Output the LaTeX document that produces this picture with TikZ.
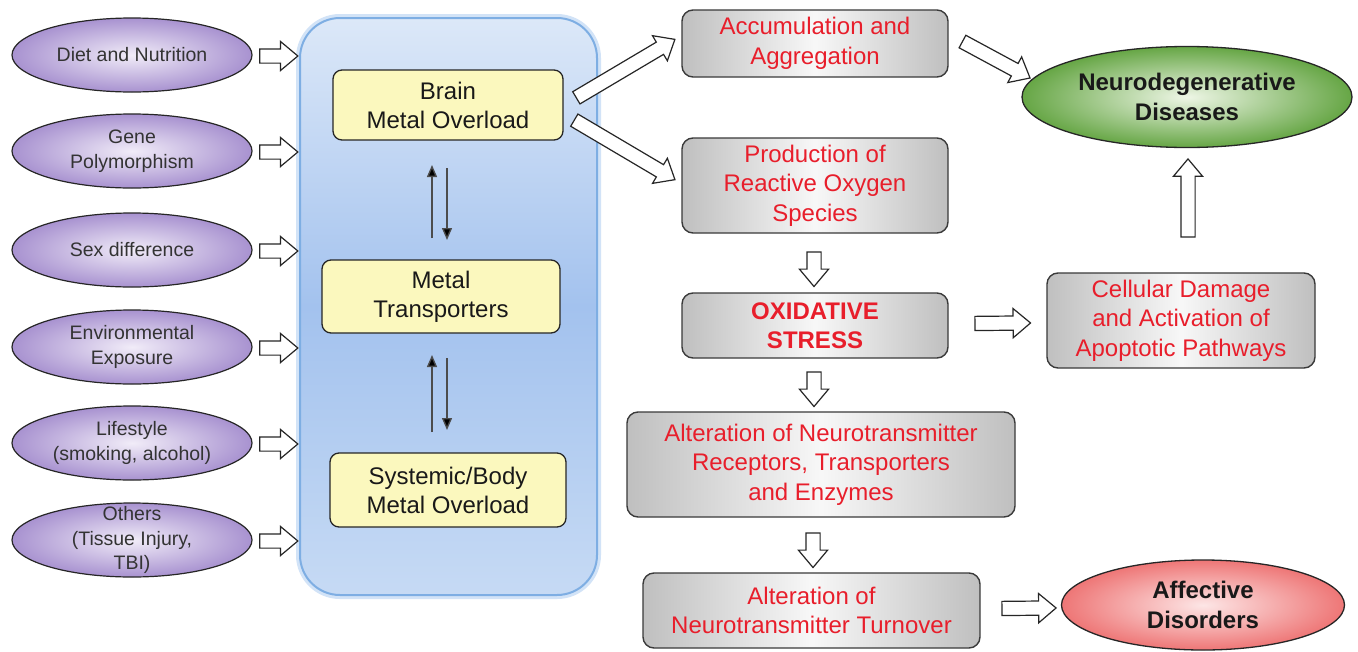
\documentclass[tikz,border=0pt]{standalone}
\usepackage{fontspec}
\setmainfont{Liberation Sans}
\usetikzlibrary{shapes.geometric,shapes.arrows,calc,arrows.meta}
\definecolor{purpin}{HTML}{F1ECF8}
\definecolor{purpout}{HTML}{A892D0}
\definecolor{bluetop}{HTML}{DCE8F8}
\definecolor{bluemid}{HTML}{A3C2EE}
\definecolor{bluebot}{HTML}{C6DAF4}
\definecolor{blueedge}{HTML}{7EAEE3}
\definecolor{blueglow}{HTML}{D2E3F7}
\definecolor{yellowfill}{HTML}{FBF8BE}
\definecolor{redtext}{HTML}{E81E2B}
\definecolor{greenin}{HTML}{EEF6E6}
\definecolor{greenout}{HTML}{66A645}
\definecolor{pinkin}{HTML}{FDE6E6}
\definecolor{pinkout}{HTML}{EE7676}
\definecolor{edgegray}{HTML}{3A3A3A}
\tikzset{
  factor/.style={ellipse, draw=black!85, line width=1.2pt, inner color=purpin, outer color=purpout,
    minimum width=240, minimum height=74, inner sep=0pt, align=center,
    font=\fontsize{19.5}{24.5}\selectfont, text=black!80},
  container/.style={rectangle, rounded corners=40, minimum width=297, minimum height=577,
    draw=blueedge, line width=2pt, top color=bluetop, bottom color=bluebot, middle color=bluemid},
  metalbox/.style={rectangle, rounded corners=9, draw=black!85, line width=1.3pt, fill=yellowfill,
    align=center, font=\fontsize{24}{29}\selectfont, text=black!90, inner sep=0pt},
  effectbox/.style={rectangle, rounded corners=11, draw=edgegray, line width=1.4pt,
    left color=black!25, right color=black!25, middle color=black!3,
    align=center, font=\fontsize{24}{29.5}\selectfont, text=redtext, inner sep=0pt},
  outcome/.style={ellipse, draw=black!85, line width=1.3pt, align=center, inner sep=0pt,
    font=\fontsize{24}{29.5}\selectfont\bfseries, text=black!90},
  fatarr/.style={single arrow, draw=black!85, line width=1.2pt, fill=white,
    inner xsep=0pt, inner ysep=6.5pt,
    single arrow head extend=7.5pt, single arrow tip angle=80, anchor=center},
  thinarr/.style={line width=1.4pt, draw=black!70, -{Triangle[length=12pt,width=10pt,fill=black]}}
}
\newcommand{\blockarrow}[2]{\path let \p1=(#1), \p2=(#2), \n1={veclen(\x2-\x1,\y2-\y1)} in
  (\p1) -- (\p2) node[fatarr, midway, sloped, allow upside down, minimum height=\n1]{};}
\begin{document}
\begin{tikzpicture}[x=1pt,y=-1pt]
\useasboundingbox (0,0) rectangle (1358,651);
\fill[white] (0,0) rectangle (1358,651);

% container
\draw[blueglow, line width=8pt, rounded corners=40] (300,18) rectangle (597,595);
\node[container] (cont) at (448.5,306.5) {};

% left factors
\node[factor] (diet) at (132,55) {Diet and Nutrition};
\node[factor] (gene) at (132,151) {Gene\\Polymorphism};
\node[factor] (sex) at (132,250) {Sex difference};
\node[factor] (env) at (132,347) {Environmental\\Exposure};
\node[factor] (life) at (132,443) {Lifestyle\\(smoking, alcohol)};
\node[factor, inner ysep=-13pt] (oth) at (132,540) {Others\\(Tissue Injury,\\TBI)};
\foreach \e in {diet,gene,sex,env,life,oth}{
  \coordinate (\e-s) at ($(\e.east)+(3,1)$);
  \coordinate (\e-t) at ($(\e.east)+(41,1)$);
  \blockarrow{\e-s}{\e-t}
}

% metal boxes
\node[metalbox, minimum width=230, minimum height=70] (brain) at (448,105) {Brain\\Metal Overload};
\node[metalbox, minimum width=238, minimum height=73] (trans) at (441,296.5) {Metal\\Transporters};
\node[metalbox, minimum width=236, minimum height=74] (sys) at (448,490) {Systemic/Body\\Metal Overload};

\coordinate (u1s) at (432,238); \coordinate (u1e) at (432,165);
\coordinate (d1s) at (447,168); \coordinate (d1e) at (447,240);
\coordinate (u2s) at (432,432); \coordinate (u2e) at (432,355);
\coordinate (d2s) at (447,358); \coordinate (d2e) at (447,430);
\draw[thinarr] (u1s) -- (u1e);
\draw[thinarr] (d1s) -- (d1e);
\draw[thinarr] (u2s) -- (u2e);
\draw[thinarr] (d2s) -- (d2e);

% effect boxes
\node[effectbox, minimum width=266, minimum height=67] (acc) at (815,43.5) {Accumulation and\\Aggregation};
\node[effectbox, minimum width=266, minimum height=95] (ros) at (815,185.5) {Production of\\Reactive Oxygen\\Species};
\node[effectbox, minimum width=266, minimum height=65, font=\fontsize{24}{29.5}\selectfont\bfseries] (ox) at (815,325.5) {OXIDATIVE\\STRESS};
\node[effectbox, minimum width=388, minimum height=105] (alt1) at (821,464.5) {Alteration of Neurotransmitter\\Receptors, Transporters\\and Enzymes};
\node[effectbox, minimum width=337, minimum height=75] (alt2) at (811.5,610.5) {Alteration of\\Neurotransmitter Turnover};
\node[effectbox, minimum width=268, minimum height=95] (cell) at (1181,320.5) {Cellular Damage\\and Activation of\\Apoptotic Pathways};

% outcomes
\node[outcome, inner color=greenin, outer color=greenout, minimum width=330, minimum height=101] (neuro) at (1187,97) {Neurodegenerative\\Diseases};
\node[outcome, inner color=pinkin, outer color=pinkout, minimum width=283, minimum height=90] (aff) at (1203,605) {Affective\\Disorders};

% block arrows
\coordinate (b1s) at ($(brain.east)+(9,-5)$); \coordinate (b1t) at ($(acc.west)+(-10,-2)$);
\coordinate (b2s) at ($(brain.east)+(7,13)$); \coordinate (b2t) at ($(ros.west)+(-10,-8)$);
\coordinate (r1s) at ($(ros.south)+(-1,14)$); \coordinate (r1t) at ($(ox.north)+(-1,-10)$);
\coordinate (o1s) at ($(ox.south)+(-1,9)$); \coordinate (o1t) at ($(alt1.north)+(-7,-9)$);
\coordinate (l1s) at ($(alt1.south)+(-8,11)$); \coordinate (l1t) at ($(alt2.north)+(1.5,-9)$);
\coordinate (t1s) at ($(alt2.east)+(17,-2)$); \coordinate (t1t) at ($(aff.west)+(-9,3)$);
\coordinate (o2s) at ($(ox.east)+(22,-2)$); \coordinate (o2t) at ($(cell.west)+(-20,2.5)$);
\coordinate (c1s) at ($(cell.north)+(7,-31)$); \coordinate (c1t) at ($(neuro.south)+(1,15)$);
\coordinate (a1s) at ($(acc.east)+(10,-4)$); \coordinate (a1t) at ($(neuro.west)+(5,-21)$);
\blockarrow{b1s}{b1t}
\blockarrow{b2s}{b2t}
\blockarrow{r1s}{r1t}
\blockarrow{o1s}{o1t}
\blockarrow{l1s}{l1t}
\blockarrow{t1s}{t1t}
\blockarrow{o2s}{o2t}
\blockarrow{c1s}{c1t}
\blockarrow{a1s}{a1t}
\end{tikzpicture}
\end{document}
